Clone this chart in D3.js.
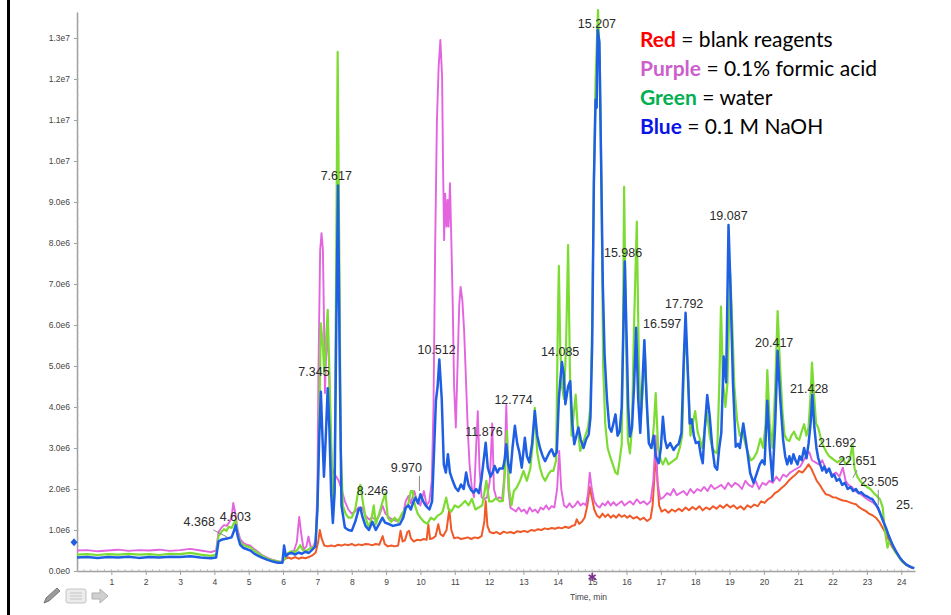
<!DOCTYPE html>
<html>
<head>
<meta charset="utf-8">
<script src="https://cdn.jsdelivr.net/npm/d3@7/dist/d3.min.js"></script>
<style>
  html, body { margin: 0; padding: 0; background: #fff; }
  svg { display: block; }
</style>
</head>
<body>
<svg id="chart" width="951" height="615"></svg>
<script>
// time (min), intensity (x 1e6 counts)
const blankReagents = [
  [6.05,0.3],[6.15,0.33],[6.25,0.3],[6.35,0.34],[6.45,0.3],[6.55,0.33],[6.65,0.31],[6.75,0.34],[6.85,0.38],[6.95,0.45],
  [7.02,0.7],[7.07,1.0],[7.12,0.8],[7.2,0.62],[7.3,0.6],[7.4,0.62],[7.5,0.6],[7.6,0.64],[7.7,0.62],[7.8,0.65],[7.9,0.63],
  [8.0,0.66],[8.1,0.62],[8.2,0.65],[8.3,0.63],[8.4,0.66],[8.5,0.65],[8.6,0.63],[8.7,0.66],[8.8,0.64],[8.9,0.85],[8.96,0.66],
  [9.05,0.6],[9.15,0.62],[9.25,0.6],[9.35,0.62],[9.42,0.98],[9.48,0.72],[9.55,0.75],[9.62,0.95],[9.67,0.98],[9.72,0.8],
  [9.8,0.72],[9.9,0.76],[10.0,0.75],[10.1,0.78],[10.18,0.76],[10.23,1.14],[10.28,0.78],[10.36,0.8],[10.44,0.85],[10.52,1.14],
  [10.58,0.9],[10.66,0.85],[10.76,1.0],[10.84,1.5],[10.9,1.0],[10.98,0.8],[11.08,0.82],[11.18,0.78],[11.28,0.8],[11.38,0.82],
  [11.48,0.78],[11.58,0.82],[11.68,0.8],[11.78,0.85],[11.86,1.2],[11.9,1.71],[11.95,1.1],[12.02,0.95],[12.12,0.92],[12.22,0.95],
  [12.32,0.9],[12.42,0.96],[12.52,0.93],[12.62,0.95],[12.72,0.92],[12.82,0.97],[12.92,0.95],[13.02,0.98],[13.12,0.95],[13.22,1.0],
  [13.32,0.98],[13.42,1.02],[13.52,1.0],[13.62,1.04],[13.72,1.02],[13.82,1.05],[13.92,1.03],[14.02,1.06],[14.12,1.04],[14.22,1.08],
  [14.32,1.05],[14.42,1.1],[14.5,1.12],[14.55,1.26],[14.62,1.15],[14.7,1.2],[14.78,1.3],[14.86,1.6],[14.93,2.05],[14.99,1.8],
  [15.06,1.5],[15.14,1.35],[15.22,1.3],[15.3,1.4],[15.38,1.32],[15.46,1.38],[15.54,1.3],[15.62,1.36],[15.7,1.3],[15.78,1.38],
  [15.86,1.32],[15.94,1.36],[16.02,1.3],[16.1,1.35],[16.2,1.28],[16.3,1.32],[16.4,1.25],[16.5,1.3],[16.6,1.22],[16.7,1.28],
  [16.76,1.6],[16.82,2.4],[16.86,2.85],[16.9,2.2],[16.95,1.6],[17.02,1.45],[17.12,1.5],[17.22,1.42],[17.32,1.5],[17.42,1.45],
  [17.52,1.52],[17.62,1.46],[17.72,1.55],[17.82,1.48],[17.92,1.56],[18.02,1.5],[18.12,1.58],[18.22,1.48],[18.32,1.55],[18.42,1.5],
  [18.52,1.58],[18.62,1.52],[18.72,1.6],[18.82,1.54],[18.92,1.62],[19.02,1.55],[19.12,1.6],[19.22,1.52],[19.32,1.58],[19.42,1.5],
  [19.52,1.6],[19.62,1.55],[19.72,1.62],[19.82,1.58],[19.92,1.7],[20.02,1.66],[20.12,1.75],[20.22,1.8],[20.32,1.9],[20.42,1.95],
  [20.52,2.03],[20.62,2.1],[20.72,2.2],[20.82,2.28],[20.92,2.35],[21.02,2.44],[21.12,2.4],[21.22,2.5],[21.3,2.6],[21.38,2.5],
  [21.46,2.35],[21.54,2.2],[21.62,2.11],[21.7,2.0],[21.8,1.87],[21.9,1.85],[22.0,1.8],[22.1,1.79],[22.2,1.75],[22.3,1.72],
  [22.39,1.71],[22.48,1.68],[22.58,1.65],[22.68,1.63],[22.78,1.55],[22.88,1.5],[22.97,1.46],[23.06,1.4],[23.16,1.36],[23.26,1.3],
  [23.36,1.2],[23.46,1.05],[23.56,0.9],[23.65,0.73],[23.74,0.58],[23.84,0.45],[23.94,0.33],[24.04,0.22],[24.14,0.15],[24.24,0.1],[24.34,0.07]
];

const formicAcid = [
  [0,0.5],[0.3,0.51],[0.6,0.48],[0.9,0.5],[1.2,0.52],[1.5,0.49],[1.8,0.51],[2.1,0.5],[2.4,0.52],[2.7,0.49],[3.0,0.51],[3.3,0.54],
  [3.6,0.5],[3.9,0.46],[4.05,0.5],[4.12,0.95],[4.2,1.05],[4.28,1.12],[4.36,1.1],[4.44,1.2],[4.5,1.3],[4.55,1.66],[4.6,1.45],
  [4.68,1.0],[4.75,0.78],[4.85,0.68],[4.95,0.64],[5.05,0.62],[5.15,0.54],[5.25,0.48],[5.4,0.38],[5.55,0.32],[5.7,0.27],[5.85,0.24],
  [5.98,0.22],[6.05,0.3],[6.12,0.38],[6.22,0.46],[6.32,0.5],[6.4,0.7],[6.47,1.32],[6.53,0.9],[6.6,0.52],[6.68,0.6],[6.74,0.84],
  [6.8,0.6],[6.87,0.58],[6.95,0.75],[7.0,2.0],[7.03,4.82],[7.08,7.83],[7.12,8.24],[7.16,7.83],[7.2,5.63],[7.22,4.34],[7.25,5.2],
  [7.28,5.8],[7.33,5.23],[7.37,3.6],[7.42,2.54],[7.47,2.4],[7.55,2.3],[7.62,2.2],[7.7,2.0],[7.8,1.7],[7.9,1.5],[8.0,1.4],[8.1,1.45],
  [8.2,1.55],[8.3,1.55],[8.4,1.35],[8.5,1.26],[8.6,1.3],[8.7,1.25],[8.8,1.35],[8.9,1.59],[8.98,1.4],[9.1,1.3],[9.2,1.25],[9.3,1.22],
  [9.4,1.28],[9.5,1.4],[9.57,1.7],[9.65,1.83],[9.72,1.65],[9.82,1.95],[9.9,1.7],[10.0,1.6],[10.1,1.95],[10.18,1.6],[10.26,1.7],
  [10.33,2.2],[10.38,4.0],[10.43,8.0],[10.48,11.0],[10.53,12.3],[10.58,12.95],[10.63,12.06],[10.66,9.78],[10.69,8.07],[10.72,9.2],
  [10.76,8.4],[10.79,9.05],[10.82,8.4],[10.86,9.46],[10.9,8.05],[10.94,6.5],[10.98,4.5],[11.03,3.5],[11.08,5.0],[11.13,6.5],
  [11.17,6.93],[11.22,6.6],[11.27,5.9],[11.32,4.8],[11.38,3.4],[11.43,2.6],[11.5,2.0],[11.56,1.8],[11.62,3.0],[11.67,3.9],[11.72,2.5],
  [11.78,1.8],[11.86,1.75],[11.94,1.8],[12.02,2.2],[12.09,3.6],[12.14,2.0],[12.22,1.75],[12.3,1.8],[12.38,1.75],[12.44,2.3],[12.5,4.05],
  [12.56,2.0],[12.62,1.54],[12.7,1.5],[12.78,1.45],[12.86,1.55],[12.94,1.45],[13.02,1.5],[13.1,1.4],[13.18,1.55],[13.26,1.45],
  [13.34,1.5],[13.42,1.42],[13.5,1.55],[13.58,1.5],[13.66,1.6],[13.74,1.5],[13.82,1.58],[13.9,1.55],[13.98,2.0],[14.04,2.93],
  [14.1,2.0],[14.18,1.6],[14.26,1.55],[14.34,1.65],[14.42,1.55],[14.5,1.6],[14.58,1.7],[14.66,1.6],[14.74,1.65],[14.82,1.6],
  [14.88,1.9],[14.93,2.4],[14.99,2.0],[15.06,1.7],[15.14,1.6],[15.22,1.55],[15.3,1.65],[15.38,1.6],[15.46,1.7],[15.54,1.6],
  [15.62,1.68],[15.7,1.6],[15.78,1.65],[15.86,1.7],[15.94,1.6],[16.02,1.65],[16.1,1.7],[16.2,1.62],[16.3,1.75],[16.4,1.65],
  [16.5,1.7],[16.6,1.62],[16.7,1.7],[16.78,2.2],[16.85,3.3],[16.9,2.2],[16.98,1.75],[17.08,1.8],[17.18,1.9],[17.28,1.85],[17.37,2.0],
  [17.46,1.85],[17.56,1.9],[17.66,1.95],[17.76,1.85],[17.86,2.0],[17.96,1.9],[18.06,2.0],[18.16,1.95],[18.26,2.05],[18.36,1.95],
  [18.46,2.1],[18.56,2.0],[18.66,2.05],[18.76,2.1],[18.86,2.0],[18.96,2.15],[19.06,2.05],[19.16,2.15],[19.26,2.1],[19.36,2.0],
  [19.46,2.2],[19.56,2.1],[19.66,2.05],[19.76,2.2],[19.86,2.0],[19.96,2.15],[20.06,2.1],[20.16,2.2],[20.26,2.15],[20.36,2.3],
  [20.46,2.2],[20.56,2.35],[20.66,2.3],[20.76,2.4],[20.86,2.45],[20.96,2.5],[21.06,2.55],[21.16,2.7],[21.26,2.85],[21.32,2.9],
  [21.4,2.7],[21.5,2.65],[21.6,2.6],[21.7,2.7],[21.8,2.5],[21.9,2.45],[22.0,2.35],[22.1,2.4],[22.2,2.3],[22.3,2.52],[22.38,2.2],
  [22.46,2.1],[22.56,2.05],[22.66,1.95],[22.76,1.9],[22.86,1.85],[22.96,1.78],[23.06,1.72],[23.16,1.68],[23.26,1.6],[23.36,1.45],
  [23.46,1.25],[23.56,1.02],[23.66,0.8],[23.76,0.6],[23.86,0.45],[23.96,0.32],[24.06,0.22],[24.16,0.15],[24.26,0.1],[24.36,0.07]
];

const water = [
  [0,0.4],[0.3,0.41],[0.6,0.39],[0.9,0.41],[1.2,0.4],[1.5,0.42],[1.8,0.4],[2.1,0.41],[2.4,0.39],[2.7,0.42],[3.0,0.41],[3.3,0.44],
  [3.6,0.4],[3.9,0.37],[4.05,0.4],[4.12,0.85],[4.2,0.95],[4.28,1.02],[4.35,0.98],[4.42,1.08],[4.5,1.05],[4.56,1.15],[4.62,1.24],
  [4.68,0.9],[4.75,0.7],[4.85,0.63],[4.95,0.6],[5.05,0.58],[5.15,0.5],[5.25,0.45],[5.4,0.36],[5.55,0.3],[5.7,0.26],[5.85,0.23],
  [5.98,0.22],[6.05,0.3],[6.12,0.42],[6.22,0.48],[6.32,0.45],[6.42,0.52],[6.5,0.63],[6.58,0.5],[6.68,0.49],[6.78,0.55],[6.88,0.58],
  [6.95,0.65],[7.0,1.6],[7.04,3.0],[7.1,6.04],[7.16,5.47],[7.2,4.82],[7.25,5.6],[7.3,6.37],[7.35,4.82],[7.4,3.2],[7.45,1.73],
  [7.5,1.97],[7.55,8.0],[7.59,12.66],[7.63,8.5],[7.68,3.0],[7.74,1.6],[7.82,1.4],[7.9,1.3],[8.0,1.3],[8.1,1.5],[8.18,1.9],[8.25,2.1],
  [8.32,1.7],[8.4,1.3],[8.5,1.06],[8.58,1.3],[8.64,1.6],[8.7,1.14],[8.8,1.4],[8.9,1.7],[8.98,1.9],[9.05,1.3],[9.15,1.2],[9.25,1.3],
  [9.35,1.2],[9.45,1.38],[9.55,1.5],[9.65,1.65],[9.72,1.95],[9.77,1.95],[9.84,1.6],[9.92,1.4],[10.0,1.3],[10.1,1.2],[10.2,1.15],
  [10.3,1.3],[10.4,1.25],[10.5,1.35],[10.6,1.4],[10.65,1.46],[10.75,1.79],[10.82,1.5],[10.9,1.45],[11.0,1.6],[11.1,1.55],[11.2,1.62],
  [11.3,1.71],[11.4,1.6],[11.5,1.76],[11.6,1.5],[11.7,1.55],[11.8,1.6],[11.92,2.2],[12.0,1.7],[12.1,1.7],[12.2,1.78],[12.3,1.7],
  [12.4,1.71],[12.46,2.4],[12.52,3.41],[12.58,2.0],[12.65,1.6],[12.72,1.95],[12.8,2.03],[12.9,2.2],[13.0,2.44],[13.1,2.2],[13.2,2.5],
  [13.28,3.2],[13.33,3.98],[13.4,2.9],[13.48,2.52],[13.56,2.3],[13.63,2.2],[13.72,2.35],[13.8,2.44],[13.87,2.44],[13.95,2.7],
  [14.0,6.0],[14.03,7.44],[14.07,5.5],[14.12,4.5],[14.18,4.2],[14.24,5.5],[14.3,7.95],[14.35,5.0],[14.4,3.3],[14.46,3.8],[14.52,4.3],
  [14.58,3.5],[14.65,2.93],[14.72,3.1],[14.8,3.3],[14.88,3.5],[14.95,4.0],[15.0,6.0],[15.05,9.5],[15.1,12.0],[15.17,13.68],
  [15.22,12.5],[15.27,9.5],[15.32,5.0],[15.38,3.6],[15.45,3.0],[15.52,2.8],[15.6,2.6],[15.68,2.4],[15.74,2.36],[15.8,2.7],
  [15.86,3.09],[15.9,6.0],[15.93,9.37],[15.98,6.0],[16.04,3.2],[16.1,2.87],[16.16,3.5],[16.22,6.0],[16.3,8.52],[16.36,5.0],
  [16.42,3.76],[16.48,4.5],[16.54,5.3],[16.6,3.8],[16.66,3.1],[16.74,3.0],[16.8,3.6],[16.85,4.34],[16.92,3.0],[17.0,2.7],
  [17.06,2.6],[17.14,2.75],[17.22,2.6],[17.3,2.65],[17.38,2.7],[17.46,2.75],[17.55,3.0],[17.62,3.3],[17.68,5.2],[17.73,5.73],
  [17.8,4.6],[17.86,3.3],[17.93,3.6],[18.0,3.9],[18.07,3.4],[18.14,3.2],[18.2,3.0],[18.27,3.4],[18.34,3.9],[18.42,3.3],[18.5,3.0],
  [18.58,2.9],[18.64,2.87],[18.7,4.5],[18.75,6.45],[18.81,4.6],[18.88,4.0],[18.94,4.6],[19.02,7.26],[19.08,6.0],[19.14,4.5],
  [19.22,3.68],[19.3,3.3],[19.38,3.4],[19.46,3.1],[19.55,2.85],[19.62,2.7],[19.7,2.75],[19.8,2.9],[19.9,3.23],[19.98,3.0],
  [20.05,3.6],[20.1,4.9],[20.17,3.6],[20.25,3.0],[20.33,4.5],[20.4,6.34],[20.47,5.0],[20.54,3.9],[20.6,3.33],[20.67,3.2],
  [20.74,3.17],[20.8,3.3],[20.88,3.4],[20.95,3.25],[21.03,3.2],[21.1,3.4],[21.17,3.58],[21.24,3.3],[21.3,3.5],[21.36,4.3],
  [21.4,5.08],[21.46,4.3],[21.52,3.6],[21.58,3.5],[21.64,3.3],[21.7,3.1],[21.76,3.0],[21.82,2.9],[21.9,2.8],[21.98,2.75],
  [22.06,2.7],[22.14,2.65],[22.22,2.7],[22.3,2.76],[22.38,2.6],[22.46,2.65],[22.52,2.8],[22.58,3.09],[22.64,2.5],[22.72,2.3],
  [22.8,2.2],[22.9,2.11],[23.0,2.05],[23.1,2.0],[23.2,1.9],[23.3,1.82],[23.38,1.75],[23.46,1.55],[23.52,1.0],[23.6,0.57],
  [23.66,0.75],[23.72,0.68],[23.8,0.5],[23.9,0.38],[24.0,0.26],[24.1,0.18],[24.2,0.13],[24.3,0.09],[24.38,0.08]
];

const naoh = [
  [0,0.33],[0.3,0.34],[0.6,0.32],[0.9,0.34],[1.2,0.33],[1.5,0.35],[1.8,0.32],[2.1,0.34],[2.4,0.33],[2.7,0.35],[3.0,0.34],[3.3,0.36],
  [3.6,0.33],[3.9,0.31],[4.05,0.33],[4.12,0.72],[4.2,0.76],[4.3,0.78],[4.4,0.8],[4.5,0.82],[4.56,0.95],[4.62,1.12],[4.68,0.85],
  [4.75,0.64],[4.85,0.56],[4.95,0.53],[5.05,0.5],[5.15,0.43],[5.25,0.38],[5.4,0.32],[5.55,0.27],[5.7,0.23],[5.85,0.2],[5.98,0.2],
  [6.03,0.62],[6.08,0.36],[6.15,0.42],[6.25,0.44],[6.35,0.4],[6.45,0.45],[6.55,0.42],[6.65,0.47],[6.75,0.44],[6.85,0.52],[6.94,0.6],
  [7.0,1.5],[7.05,3.2],[7.1,4.37],[7.15,3.2],[7.19,2.3],[7.24,3.2],[7.3,4.46],[7.35,3.44],[7.4,1.9],[7.45,1.17],[7.5,1.9],[7.55,6.0],
  [7.6,9.4],[7.65,5.0],[7.7,1.6],[7.8,1.06],[7.9,1.0],[8.0,0.98],[8.1,1.2],[8.2,1.5],[8.25,1.54],[8.32,1.3],[8.4,1.1],[8.5,1.0],
  [8.6,1.2],[8.7,1.0],[8.8,1.15],[8.89,1.3],[8.97,1.18],[9.1,1.14],[9.2,1.1],[9.3,1.12],[9.4,1.14],[9.5,1.3],[9.57,1.54],[9.65,1.6],
  [9.72,1.5],[9.8,1.7],[9.86,1.79],[9.93,1.65],[10.0,1.87],[10.08,1.7],[10.15,1.6],[10.26,1.5],[10.34,1.7],[10.4,3.0],[10.45,4.15],
  [10.5,4.5],[10.55,5.16],[10.62,4.2],[10.68,2.6],[10.74,2.4],[10.8,2.85],[10.86,2.4],[10.94,2.2],[11.02,2.03],[11.1,1.95],
  [11.18,2.11],[11.26,2.0],[11.33,2.4],[11.4,2.1],[11.47,1.98],[11.55,1.91],[11.62,2.0],[11.7,1.9],[11.77,2.2],[11.84,2.7],
  [11.9,3.13],[11.96,2.52],[12.04,2.3],[12.1,2.4],[12.16,2.56],[12.24,2.4],[12.3,2.5],[12.4,2.5],[12.45,2.7],[12.5,3.09],[12.56,2.6],
  [12.62,2.4],[12.68,3.0],[12.75,3.54],[12.82,3.1],[12.88,2.9],[12.95,2.52],[13.04,3.25],[13.1,2.8],[13.17,2.65],[13.25,3.1],
  [13.33,3.9],[13.4,3.3],[13.48,3.0],[13.56,2.8],[13.63,2.68],[13.7,2.8],[13.76,2.9],[13.82,2.97],[13.9,2.8],[13.97,2.9],
  [14.03,4.2],[14.07,4.63],[14.12,5.1],[14.17,4.8],[14.22,4.07],[14.3,4.5],[14.36,4.63],[14.42,3.6],[14.48,3.09],[14.54,3.3],
  [14.6,3.5],[14.67,3.2],[14.75,3.0],[14.82,3.2],[14.9,3.33],[14.95,3.74],[15.0,5.5],[15.05,9.5],[15.1,11.5],[15.13,11.3],
  [15.16,13.2],[15.21,12.9],[15.26,10.0],[15.31,7.0],[15.36,5.3],[15.43,4.2],[15.5,3.5],[15.56,3.4],[15.62,3.6],[15.68,3.82],
  [15.74,3.3],[15.8,3.4],[15.86,4.0],[15.9,5.5],[15.95,7.55],[16.0,5.8],[16.05,4.0],[16.1,3.28],[16.16,3.5],[16.22,4.5],[16.28,5.93],
  [16.34,4.2],[16.4,3.37],[16.46,4.5],[16.52,5.63],[16.58,4.3],[16.65,3.12],[16.72,3.0],[16.79,3.3],[16.85,2.8],[16.94,2.63],
  [17.0,3.0],[17.06,3.76],[17.12,3.2],[17.18,3.0],[17.27,3.12],[17.37,2.95],[17.45,3.05],[17.52,3.1],[17.6,3.37],[17.66,5.0],
  [17.72,6.3],[17.78,4.98],[17.84,3.6],[17.9,3.7],[17.96,3.3],[18.02,3.12],[18.1,3.15],[18.17,2.8],[18.22,2.63],[18.28,3.5],
  [18.35,4.29],[18.42,3.8],[18.5,3.0],[18.57,2.55],[18.64,2.47],[18.7,3.0],[18.76,3.37],[18.83,5.23],[18.9,4.6],[18.97,8.44],
  [19.03,6.85],[19.1,4.58],[19.18,3.03],[19.25,3.1],[19.3,3.0],[19.4,3.6],[19.47,3.2],[19.52,2.9],[19.6,2.39],[19.7,2.15],
  [19.8,2.4],[19.88,2.6],[19.95,2.7],[20.02,2.6],[20.1,4.15],[20.17,3.0],[20.25,2.2],[20.33,3.6],[20.4,5.37],[20.48,4.15],
  [20.56,3.2],[20.62,2.8],[20.68,2.6],[20.74,2.8],[20.8,2.62],[20.86,2.85],[20.92,2.7],[20.98,2.6],[21.04,2.8],[21.1,2.7],
  [21.17,3.0],[21.24,2.75],[21.3,3.1],[21.36,3.6],[21.41,4.3],[21.47,3.5],[21.53,3.0],[21.58,2.76],[21.64,2.6],[21.7,2.45],
  [21.76,2.55],[21.82,2.4],[21.9,2.5],[21.98,2.3],[22.05,2.35],[22.12,2.2],[22.2,2.25],[22.28,2.1],[22.36,2.15],[22.44,2.0],
  [22.52,2.05],[22.6,1.95],[22.68,2.0],[22.76,1.9],[22.84,1.92],[22.92,1.85],[23.0,1.82],[23.08,1.78],[23.16,1.75],[23.24,1.65],
  [23.32,1.55],[23.4,1.38],[23.48,1.2],[23.55,1.06],[23.62,0.9],[23.7,0.73],[23.77,0.6],[23.84,0.49],[23.94,0.35],[24.04,0.24],
  [24.14,0.16],[24.23,0.12],[24.32,0.08],[24.38,0.07]
];

// peak annotations: label, [time of label centre, intensity of label baseline]
const peakLabels = ['4.368','4.603','7.345','7.617','8.246','9.970','10.512','11.876','12.774','14.085','15.207',
  '15.986','16.597','17.792','19.087','20.417','21.428','21.692','22.651','23.505','25.'];
const peakLabelAt = [[3.56,1.10],[4.61,1.22],[6.9,4.76],[7.55,9.54],[8.6,1.85],[9.59,2.41],[10.47,5.29],[11.85,3.29],
  [12.71,4.07],[14.07,5.24],[15.14,13.24],[15.9,7.66],[17.04,5.93],[17.68,6.41],[18.97,8.56],[20.3,5.46],[21.32,4.34],
  [22.13,3.02],[22.72,2.59],[23.36,2.07],[24.1,1.51]];
// leader lines from labels to peaks
const leaders = [[[3.97,1.0],[4.37,0.83]],[[9.97,2.32],[9.97,1.95]],[[22.71,2.46],[22.59,2.27]],[[23.33,1.98],[23.33,1.61]]];

const xTicks = d3.range(1, 25);
const yTicks = d3.range(0, 14);

const legendRows = [
  { key: 'Red', color: '#ff0000', text: ' = blank reagents' },
  { key: 'Purple', color: '#cc5fcc', text: ' = 0.1% formic acid' },
  { key: 'Green', color: '#00b050', text: ' = water' },
  { key: 'Blue', color: '#0a14e6', text: ' = 0.1 M NaOH' }
];

const seriesList = [
  { data: blankReagents, color: '#f05a28', width: 2 },
  { data: formicAcid, color: '#e464e0', width: 1.9 },
  { data: water, color: '#7ddc34', width: 2.2 },
  { data: naoh, color: '#1f5fe3', width: 2.5 }
];

const svg = d3.select('#chart');
const x = d3.scaleLinear().domain([0, 24.4]).range([77, 915]);
const y = d3.scaleLinear().domain([0, 13.634]).range([571, 12]);

// slide border on the left
svg.append('rect').attr('x', 7).attr('y', 0).attr('width', 3).attr('height', 615).attr('fill', '#000');

/* axes */
const expFmt = v => d3.format('.1e')(v * 1e6).replace('+', '');

const yAxis = svg.append('g')
  .attr('transform', `translate(${x(0)},0)`)
  .call(d3.axisLeft(y).tickValues(yTicks).tickFormat(expFmt).tickSize(3).tickSizeOuter(0).tickPadding(4));

const xAxis = svg.append('g')
  .attr('transform', `translate(0,${y(0)})`)
  .call(d3.axisBottom(x).tickValues(xTicks).tickFormat(d3.format('d')).tickSize(4).tickSizeOuter(0).tickPadding(4));

[yAxis, xAxis].forEach(g => {
  g.select('.domain').attr('stroke', '#a0a0a0').attr('stroke-width', 1.5);
  g.selectAll('.tick line').attr('stroke', '#a0a0a0');
  g.selectAll('.tick text')
    .attr('fill', '#444')
    .style('font-family', 'Liberation Sans, Arial, sans-serif')
    .style('font-size', '8.5px');
});

// minor ticks
const minor = svg.append('g').attr('stroke', '#bbb').attr('stroke-width', 0.8);
minor.selectAll('.my').data(d3.range(0.2, 13.6, 0.2)).enter().append('line')
  .attr('x1', x(0)).attr('x2', x(0) + 2).attr('y1', d => y(d)).attr('y2', d => y(d));
minor.selectAll('.mx').data(d3.range(0.2, 24.4, 0.2)).enter().append('line')
  .attr('x1', d => x(d)).attr('x2', d => x(d)).attr('y1', y(0)).attr('y2', y(0) - 2);

svg.append('text')
  .attr('x', 570).attr('y', 600)
  .attr('fill', '#444')
  .style('font-family', 'Liberation Sans, Arial, sans-serif')
  .style('font-size', '8.5px')
  .text('Time, min');

/* traces */
const line = d3.line().x(d => x(d[0])).y(d => y(d[1]));

svg.append('g').attr('class', 'lines')
  .selectAll('path')
  .data(seriesList)
  .enter()
  .append('path')
  .attr('d', d => line(d.data))
  .attr('fill', 'none')
  .attr('stroke', d => d.color)
  .attr('stroke-width', d => d.width)
  .attr('stroke-linejoin', 'round');

/* peak labels */
svg.append('g')
  .selectAll('line')
  .data(leaders)
  .enter()
  .append('line')
  .attr('x1', d => x(d[0][0])).attr('y1', d => y(d[0][1]))
  .attr('x2', d => x(d[1][0])).attr('y2', d => y(d[1][1]))
  .attr('stroke', '#888').attr('stroke-width', 1);

svg.append('g')
  .selectAll('text')
  .data(peakLabels)
  .enter()
  .append('text')
  .attr('x', (d, i) => x(peakLabelAt[i][0]))
  .attr('y', (d, i) => y(peakLabelAt[i][1]))
  .attr('text-anchor', 'middle')
  .attr('fill', '#2b2b2b')
  .style('font-family', 'Liberation Sans, Arial, sans-serif')
  .style('font-size', '12.5px')
  .text(d => d);

/* markers on the axes */
const mx = x(0) - 3, my = y(0.7);
svg.append('path')
  .attr('d', `M${mx},${my - 4}L${mx + 3.5},${my}L${mx},${my + 4}L${mx - 3.5},${my}Z`)
  .attr('fill', '#1f5fe3');

const sx = x(15), sy = y(0) + 6;
svg.append('g').attr('stroke', '#7a2f8f').attr('stroke-width', 1.6)
  .selectAll('line')
  .data([[0, -4, 0, 4], [-3.5, -2, 3.5, 2], [-3.5, 2, 3.5, -2]])
  .enter().append('line')
  .attr('x1', d => sx + d[0]).attr('y1', d => sy + d[1])
  .attr('x2', d => sx + d[2]).attr('y2', d => sy + d[3]);

/* toolbar icons */
const icons = svg.append('g');
icons.append('path')
  .attr('d', 'M44,603 L46,598 L57,588 L60,591 L49,601 Z')
  .attr('fill', '#9a9a9a').attr('stroke', '#666').attr('stroke-width', 0.8);
icons.append('rect')
  .attr('x', 66).attr('y', 589).attr('width', 20).attr('height', 14).attr('rx', 2)
  .attr('fill', '#ececec').attr('stroke', '#c4c4c4');
icons.selectAll('.ln').data([593, 596, 599]).enter().append('line')
  .attr('x1', 70).attr('x2', 82).attr('y1', d => d).attr('y2', d => d)
  .attr('stroke', '#c4c4c4');
icons.append('path')
  .attr('d', 'M92,593 L100,593 L100,589 L108,596 L100,603 L100,599 L92,599 Z')
  .attr('fill', '#d0d0d0').attr('stroke', '#b0b0b0');

/* legend */
const legend = svg.append('g')
  .style('font-family', 'Lato, Carlito, Calibri, sans-serif')
  .style('font-size', '21px');

const rows = legend.selectAll('text')
  .data(legendRows)
  .enter()
  .append('text')
  .attr('x', 640)
  .attr('y', (d, i) => 47 + i * 29);

rows.append('tspan').attr('fill', d => d.color).attr('font-weight', 'bold').text(d => d.key);
rows.append('tspan').attr('fill', '#000').text(d => d.text);
</script>
</body>
</html>
